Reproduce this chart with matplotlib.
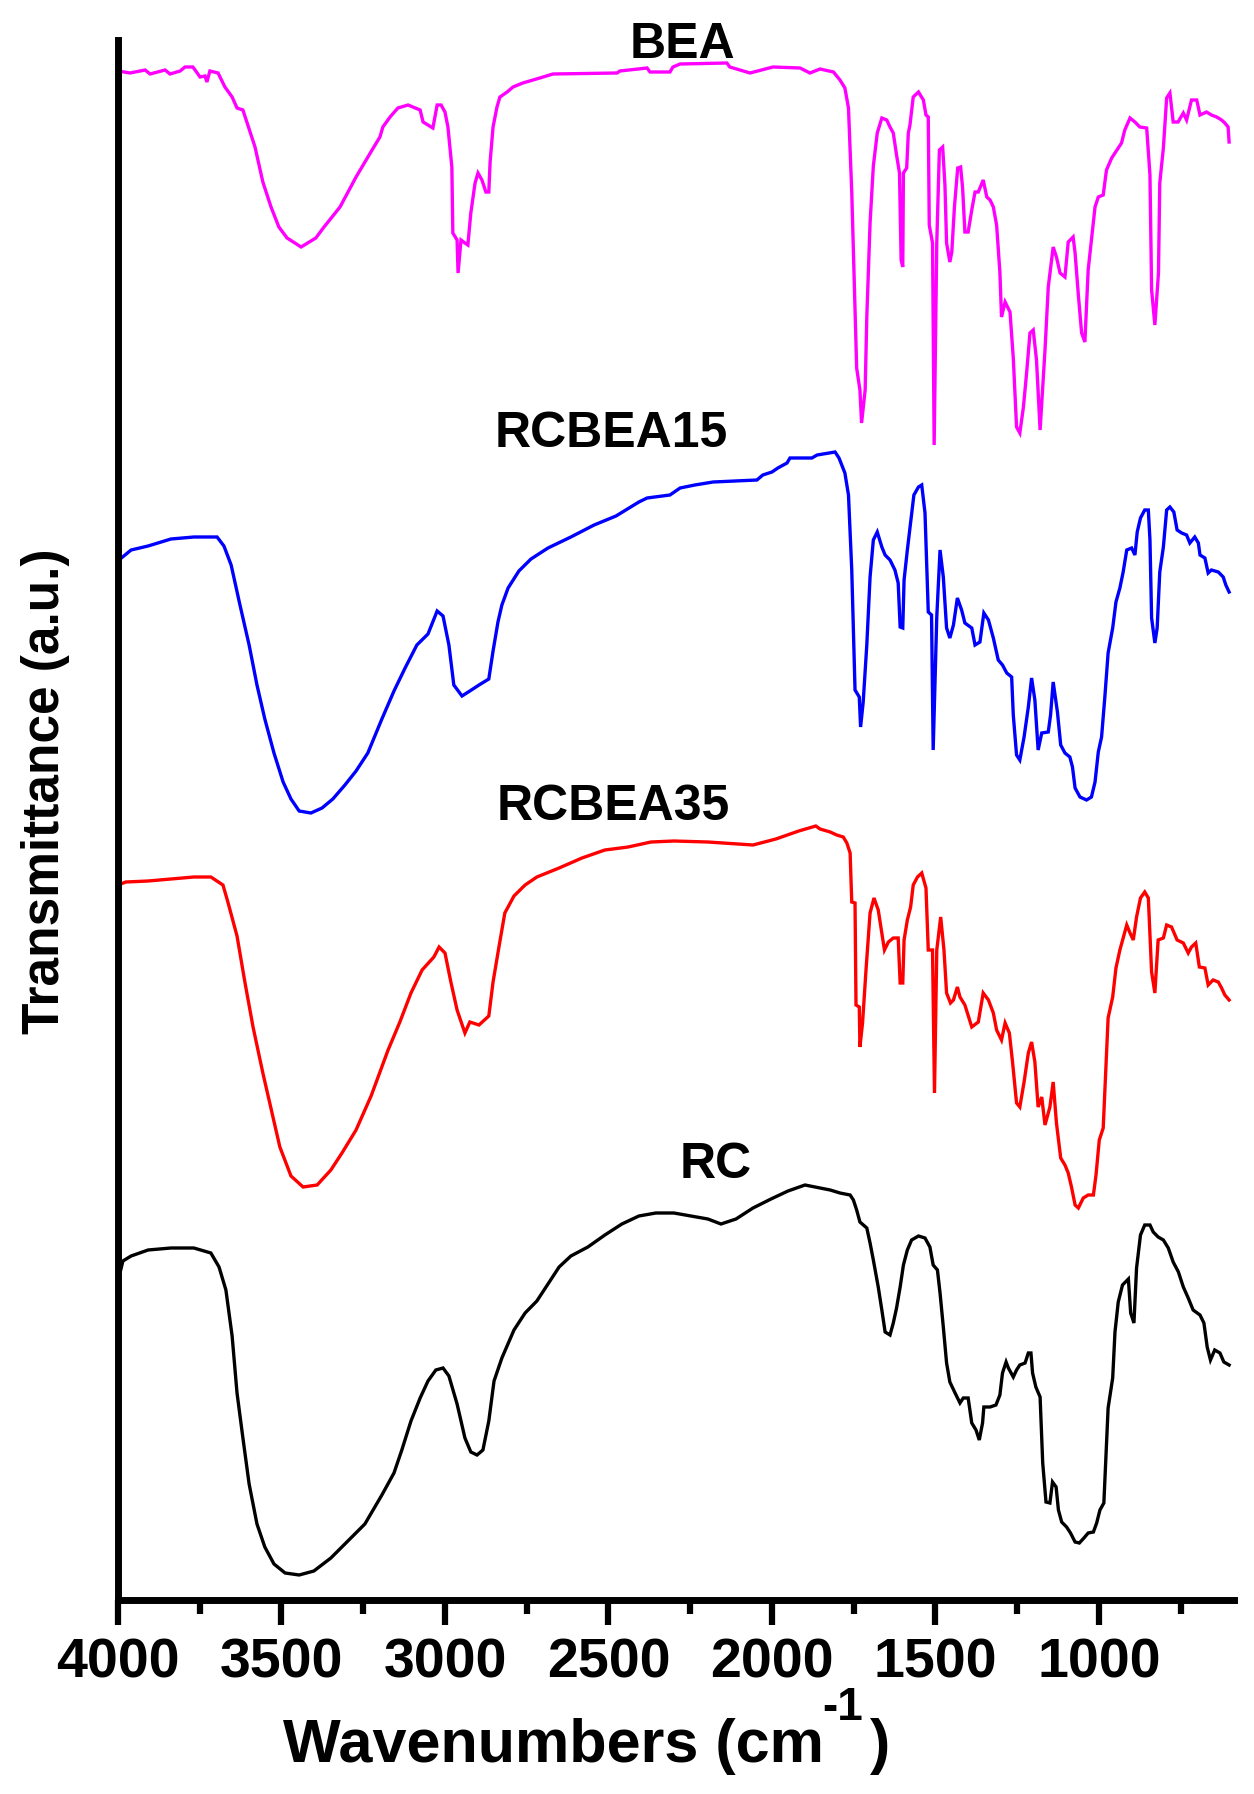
import matplotlib
matplotlib.use('Agg')
import matplotlib.pyplot as plt
from matplotlib.ticker import FixedLocator

plt.rcParams['font.family'] = ['Liberation Sans', 'DejaVu Sans']
plt.rcParams['font.weight'] = 'bold'

# ---------------- data (wavenumber cm-1, transmittance a.u., offset stacked) ----------------
bea_wn = [4000, 3963, 3917, 3902, 3856, 3841, 3810, 3795, 3771, 3749, 3734, 3728, 3719, 3694,
          3673, 3651, 3636, 3618, 3581, 3557, 3532, 3508, 3483, 3440, 3395, 3370, 3321, 3272,
          3223, 3199, 3190, 3168, 3144, 3113, 3076, 3067, 3037, 3024, 3012, 3000, 2991, 2979,
          2976, 2963, 2960, 2951, 2939, 2930, 2921, 2908, 2899, 2887, 2875, 2866, 2862, 2853,
          2841, 2832, 2810, 2792, 2762, 2710, 2670, 2474, 2465, 2382, 2373, 2312, 2303, 2281,
          2138, 2129, 2067, 1997, 1914, 1884,
          1853, 1812, 1792, 1777, 1766, 1756, 1741, 1731, 1726, 1715, 1710, 1700, 1690, 1678,
          1664, 1649, 1639, 1629, 1619, 1610, 1605, 1600, 1598, 1588, 1583, 1578, 1568, 1552,
          1537, 1529, 1522, 1519, 1509, 1504, 1496, 1488, 1478, 1471, 1466, 1456, 1450, 1442,
          1432, 1423, 1417, 1410, 1400, 1389, 1379, 1369, 1354, 1343, 1333, 1323, 1313, 1303,
          1298, 1287, 1272, 1262, 1252, 1242, 1231, 1221, 1211, 1201, 1191, 1180, 1172, 1165,
          1155, 1140, 1130, 1119, 1104, 1094, 1079, 1073, 1063, 1053, 1043, 1033, 1022, 1012,
          1002, 987, 977, 961, 931, 921, 905, 890, 875, 854, 844, 839, 829, 818, 814, 803, 793,
          783, 773, 758, 742, 732, 717, 701, 691, 671, 656, 640, 625, 615, 605, 602]
bea_t = [152.9, 152.7, 153.0, 152.6, 153.0, 152.6, 152.9, 153.3, 153.3, 152.3, 152.4, 151.8, 152.9, 152.7,
         151.3, 150.3, 149.2, 149.0, 145.3, 141.8, 139.3, 137.3, 136.2, 135.3, 136.2, 137.3, 139.3, 142.3,
         145.0, 146.3, 147.3, 148.3, 149.2, 149.5, 149.0, 147.8, 147.2, 149.5, 149.5, 148.8, 147.3, 143.3,
         136.7, 136.0, 132.7, 136.0, 135.7, 135.5, 138.7, 141.7, 142.7, 142.0, 140.8, 140.8, 143.8, 147.3,
         149.3, 150.3, 150.8, 151.3, 151.7, 152.2, 152.6, 152.7, 152.9, 153.2, 152.8, 152.8, 153.3, 153.6,
         153.7, 153.3, 152.7, 153.3, 153.2, 152.7,
         153.1, 152.8, 152.0, 151.2, 149.2, 140.8, 123.2, 121.0, 117.7, 121.0, 128.3, 137.7, 143.4, 146.7,
         148.2, 148.0, 147.3, 146.7, 144.5, 142.7, 134.0, 133.3, 142.7, 143.2, 146.7, 147.5, 150.3, 150.8,
         150.0, 148.5, 148.3, 137.5, 135.7, 115.5, 135.7, 145.0, 145.3, 141.5, 135.7, 133.8, 134.8, 139.3,
         143.2, 143.3, 141.2, 136.8, 136.8, 139.0, 140.8, 140.8, 142.0, 140.3, 140.0, 139.3, 137.5, 132.8,
         128.3, 129.8, 128.8, 124.2, 117.3, 116.7, 119.3, 122.8, 126.7, 127.0, 124.0, 117.0, 121.3, 125.0,
         131.3, 135.3, 134.3, 132.7, 132.3, 135.8, 136.3, 134.7, 130.5, 126.7, 125.8, 133.0, 136.3, 139.3,
         140.3, 140.5, 143.0, 144.2, 145.7, 147.0, 148.2, 147.8, 147.3, 147.2, 142.5, 131.0, 127.5, 132.7,
         141.7, 145.2, 150.2, 150.7, 147.8, 147.8, 148.7, 148.0, 150.0, 150.0, 148.5, 148.8, 148.5, 148.3,
         148.0, 147.7, 147.3, 145.8]

rcbea15_wn = [4000, 3997, 3960, 3908, 3838, 3768, 3697, 3676, 3654, 3627, 3599, 3575, 3551, 3523,
              3495, 3471, 3446, 3410, 3376, 3343, 3306, 3272, 3236, 3193, 3156, 3122, 3086, 3052,
              3024, 3006, 2988, 2973, 2948, 2924, 2896, 2866, 2853, 2838, 2826, 2807, 2774, 2737,
              2685, 2615, 2544, 2477, 2407, 2382, 2312, 2281, 2236, 2180, 2046, 2028, 2000, 1982,
              1954, 1945, 1878, 1862, 1807, 1795,
              1777, 1766, 1756, 1746, 1733, 1729, 1721, 1710, 1700, 1690, 1678, 1664, 1654, 1639,
              1624, 1614, 1608, 1600, 1596, 1586, 1578, 1566, 1552, 1542, 1532, 1522, 1512, 1507,
              1496, 1486, 1476, 1466, 1456, 1445, 1433, 1420, 1410, 1389, 1379, 1364, 1352, 1338,
              1323, 1308, 1295, 1282, 1267, 1262, 1252, 1242, 1229, 1216, 1206, 1196, 1186, 1175,
              1155, 1148, 1140, 1127, 1117, 1104, 1089, 1081, 1073, 1058, 1038, 1023, 1012, 1002,
              992, 982, 972, 958, 948, 936, 926, 915, 900, 890, 883, 873, 860, 849, 844, 839, 829,
              822, 814, 803, 793, 783, 771, 761, 747, 732, 722, 707, 696, 691, 676, 666, 656, 635,
              620, 612, 602]
rcbea15_t = [86.4, 104.0, 105.0, 105.4, 106.1, 106.3, 106.3, 105.4, 103.5, 99.5, 95.5, 91.5, 88.1, 84.7,
             81.8, 80.1, 78.9, 78.7, 79.2, 80.1, 81.5, 82.9, 84.7, 88.1, 90.9, 93.2, 95.5, 96.6,
             98.9, 98.4, 95.5, 91.5, 90.4, 90.9, 91.5, 92.1, 94.9, 97.8, 99.5, 101.2, 102.9, 104.1,
             105.2, 106.3, 107.5, 108.4, 109.8, 110.2, 110.5, 111.2, 111.5, 111.8, 112.0, 112.5, 112.8, 113.2,
             113.7, 114.2, 114.2, 114.5, 114.8, 114.2,
             112.7, 110.5, 103.0, 91.0, 90.3, 87.3, 89.8, 95.5, 102.3, 106.0, 106.8, 105.3, 104.5, 104.0,
             103.0, 101.7, 97.3, 97.2, 102.0, 105.0, 107.2, 110.5, 111.3, 111.5, 108.7, 98.8, 98.5, 85.0,
             98.3, 105.0, 102.3, 97.2, 96.2, 97.5, 100.2, 99.0, 97.7, 97.2, 95.5, 95.8, 98.7, 98.0,
             96.2, 94.0, 93.5, 92.7, 92.3, 88.5, 84.5, 84.0, 86.3, 89.3, 92.2, 90.0, 85.0, 86.7,
             86.8, 88.5, 91.8, 88.8, 85.5, 84.7, 84.3, 83.3, 81.2, 80.3, 80.0, 80.3, 81.8, 84.8,
             86.3, 90.3, 94.7, 97.2, 99.8, 101.2, 102.8, 105.0, 105.2, 104.5, 106.8, 108.2, 109.0, 109.0, 106.0, 98.2, 95.7,
             97.2, 102.8, 105.3, 109.0, 109.3, 108.8, 107.0, 106.7, 106.5, 105.7, 106.3, 105.7, 104.5, 104.2, 102.7, 103.0, 102.8,
             102.3, 101.5, 100.8]

rcbea35_wn = [4000, 3976, 3908, 3838, 3768, 3716, 3679, 3664, 3636, 3612, 3587, 3557, 3529, 3505,
              3471, 3434, 3391, 3349, 3315, 3272, 3226, 3174, 3138, 3104, 3070, 3034, 3018, 3000,
              2982, 2963, 2939, 2924, 2896, 2866, 2853, 2835, 2817, 2789, 2755, 2719, 2651, 2581,
              2511, 2440, 2370, 2300, 2196, 2058, 1988, 1918, 1866,
              1853, 1822, 1802, 1782, 1771, 1761, 1756, 1746, 1743, 1733, 1731, 1723, 1712, 1700,
              1688, 1675, 1664, 1656, 1644, 1629, 1614, 1608, 1600, 1596, 1586, 1576, 1568, 1555,
              1542, 1529, 1522, 1509, 1503, 1496, 1484, 1474, 1466, 1454, 1445, 1433, 1425, 1410,
              1389, 1369, 1354, 1338, 1323, 1313, 1298, 1287, 1274, 1264, 1252, 1242, 1229, 1216,
              1206, 1196, 1186, 1175, 1165, 1150, 1140, 1130, 1117, 1104, 1094, 1084, 1073, 1063,
              1048, 1033, 1017, 1009, 999, 987, 979, 972, 958, 948, 936, 926, 915, 905, 895, 885,
              873, 860, 849, 839, 829, 819, 803, 793, 778, 761, 742, 727, 717, 704, 693, 676, 666,
              651, 635, 625, 615, 602]
rcbea35_t = [71.5, 71.8, 71.9, 72.1, 72.3, 72.3, 71.5, 69.8, 66.4, 61.8, 57.3, 52.7, 48.7, 45.3,
             42.4, 41.3, 41.5, 43.0, 44.7, 47.0, 50.4, 55.0, 57.8, 60.7, 63.0, 64.3, 65.3, 64.7,
             61.8, 59.0, 56.7, 57.8, 57.5, 58.4, 61.8, 65.3, 68.7, 70.4, 71.5, 72.3, 73.2, 74.2,
             75.0, 75.3, 75.8, 75.9, 75.8, 75.5, 76.1, 76.9, 77.4,
             77.1, 76.8, 76.5, 76.3, 75.7, 74.7, 69.8, 69.7, 59.5, 59.3, 55.3, 57.7, 63.2, 68.7,
             70.2, 69.0, 66.7, 65.0, 65.8, 66.2, 66.2, 61.7, 61.7, 66.0, 68.0, 69.3, 71.5, 72.3,
             72.7, 71.2, 65.0, 65.0, 50.7, 65.0, 68.3, 65.0, 60.7, 59.7, 60.0, 61.3, 60.3, 59.5,
             57.3, 57.8, 60.7, 60.0, 58.7, 57.0, 56.0, 57.7, 56.7, 53.7, 49.7, 49.3, 51.8, 54.7,
             55.8, 53.8, 49.3, 50.3, 47.5, 49.3, 51.8, 47.7, 44.2, 43.5, 42.7, 41.3, 39.5, 39.2,
             40.2, 40.5, 40.5, 42.5, 46.0, 47.2, 53.0, 58.2, 60.3, 63.2, 65.0, 66.2, 67.5, 66.7, 66.0, 68.3,
             70.2, 70.8, 70.2, 62.8, 60.7, 66.0, 66.2, 67.5, 67.3, 66.0, 65.7, 64.7, 65.3, 65.7, 63.3, 63.2, 61.5,
             62.0, 61.8, 61.2, 60.5, 60.0]

rc_wn = [4000, 3985, 3960, 3908, 3838, 3768, 3716, 3691, 3670, 3651, 3636, 3618, 3599, 3575,
         3551, 3523, 3489, 3446, 3401, 3349, 3297, 3245, 3193, 3156, 3132, 3104, 3076, 3052,
         3028, 3006, 2988, 2963, 2939, 2921, 2902, 2884, 2866, 2850, 2826, 2789, 2755, 2719,
         2685, 2651, 2615, 2563, 2511, 2459, 2407, 2355, 2300, 2248, 2196, 2156, 2110, 2058,
         2003, 1951, 1899,
         1853, 1822, 1792, 1761, 1751, 1741, 1731, 1710, 1700, 1690, 1675, 1664, 1654, 1639,
         1629, 1619, 1608, 1598, 1586, 1573, 1552, 1532, 1517, 1507, 1494, 1486, 1476, 1466,
         1456, 1440, 1425, 1415, 1400, 1389, 1376, 1366, 1356, 1352, 1333, 1315, 1303, 1295,
         1284, 1277, 1262, 1252, 1242, 1226, 1216, 1208, 1203, 1193, 1180, 1172, 1162, 1150,
         1142, 1131, 1124, 1114, 1099, 1087, 1073, 1060, 1046, 1033, 1017, 1007, 997, 985, 979,
         972, 958, 951, 941, 928, 910, 903, 893, 885, 873, 860, 844, 834, 819, 803, 788, 773,
         757, 742, 727, 712, 691, 679, 669, 659, 646, 630, 618, 602]
rc_t = [31.9, 33.9, 34.4, 35.0, 35.2, 35.2, 34.7, 33.3, 31.0, 26.4, 20.7, 16.2, 11.6, 7.6,
        5.3, 3.6, 2.7, 2.5, 2.9, 4.2, 5.9, 7.6, 10.5, 12.7, 15.0, 17.9, 20.2, 21.9,
        23.0, 23.2, 22.4, 19.6, 16.2, 14.8, 14.5, 15.0, 17.9, 21.9, 24.2, 27.0, 28.7, 29.9,
        31.6, 33.3, 34.4, 35.3, 36.5, 37.6, 38.4, 38.7, 38.7, 38.4, 38.1, 37.6, 38.1, 39.2,
        40.1, 40.9, 41.5,
        41.2, 41.0, 40.7, 40.5, 40.0, 39.0, 37.8, 37.2, 35.7, 34.0, 31.3, 29.0, 26.8, 26.5,
        27.7, 29.2, 31.3, 33.5, 35.0, 36.0, 36.4, 36.2, 35.3, 33.5, 33.0, 30.7, 27.3, 23.7,
        21.8, 20.7, 19.7, 20.2, 20.2, 17.7, 17.0, 16.0, 17.7, 19.3, 19.3, 19.5, 20.5, 22.7,
        23.8, 23.2, 22.3, 23.0, 23.5, 23.7, 24.7, 24.7, 22.7, 21.3, 20.3, 13.7, 9.8, 9.7,
        11.8, 11.3, 9.0, 7.8, 7.3, 6.7, 5.8, 5.7, 6.2, 6.7, 6.8, 7.7, 9.0, 9.7, 14.2,
        19.2, 22.2, 26.8, 29.8, 31.5, 32.1, 28.7, 27.7, 33.2, 36.5, 37.5, 37.5, 36.8, 36.3, 36.0, 35.2, 33.8,
        32.8, 31.3, 30.2, 29.0, 28.5, 27.7, 25.3, 24.0, 25.0, 24.7, 23.8, 23.5]

series_names = ['BEA', 'RCBEA15', 'RCBEA35', 'RC']
series_colors = ['#FF00FF', '#0000FF', '#FF0000', '#000000']
label_wn = [2275, 2492, 2486, 2171]
label_t = [154.2, 115.3, 78.0, 42.2]

major_ticks = [4000, 3500, 3000, 2500, 2000, 1500, 1000]
minor_ticks = [3750, 3250, 2750, 2250, 1750, 1250, 750]
tick_labels = ['4000', '3500', '3000', '2500', '2000', '1500', '1000']

# ---------------- figure ----------------
W, H = 1254, 1794
fig = plt.figure(figsize=(W / 100, H / 100), dpi=100)
ax = fig.add_axes([118 / W, 1 - 1600 / H, (1234 - 118) / W, (1600 - 40) / H])

all_wn = [bea_wn, rcbea15_wn, rcbea35_wn, rc_wn]
all_t = [bea_t, rcbea15_t, rcbea35_t, rc_t]
for wn, t, c in zip(all_wn, all_t, series_colors):
    ax.plot(wn, t, color=c, lw=2.4, solid_joinstyle='miter')

for name, x, y in zip(series_names, label_wn, label_t):
    ax.text(x, y, name, ha='center', va='baseline', fontsize=36,
            fontweight='bold', color='black', clip_on=False)

ax.set_xlim(4000, 587)
ax.set_ylim(0, 156)
for s in ['top', 'right']:
    ax.spines[s].set_visible(False)
ax.spines['left'].set_linewidth(5)
ax.spines['bottom'].set_linewidth(5)
ax.set_yticks([])
ax.set_xticks(major_ticks)
ax.set_xticklabels(tick_labels, fontsize=40, fontweight='bold')
ax.xaxis.set_minor_locator(FixedLocator(minor_ticks))
ax.tick_params(axis='x', which='major', length=18, width=4.5, pad=9, direction='out')
ax.tick_params(axis='x', which='minor', length=10, width=4.5, direction='out')

# axis titles
fig.text(283 / W, 1 - 1762 / H, 'Wavenumbers (cm', fontsize=44, fontweight='bold',
         ha='left', va='baseline')
fig.text(822 / W, 1 - 1720 / H, '-1', fontsize=33, fontweight='bold',
         ha='left', va='baseline')
fig.text(870 / W, 1 - 1762 / H, ')', fontsize=44, fontweight='bold',
         ha='left', va='baseline')
fig.text(46 / W, 1 - 791 / H, 'Transmittance (a.u.)', rotation=90, fontsize=37,
         fontweight='bold', ha='center', va='center')

fig.savefig('out.png', dpi=100, facecolor='white')
